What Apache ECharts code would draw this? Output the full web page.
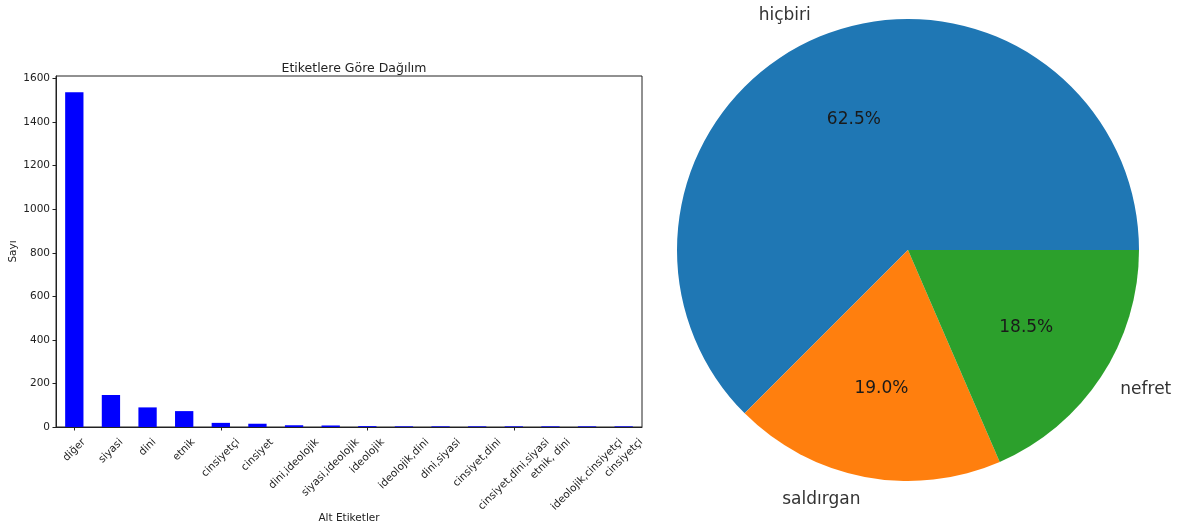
<!DOCTYPE html>
<html>
<head>
<meta charset="utf-8">
<script src="https://cdn.jsdelivr.net/npm/echarts@6/dist/echarts.min.js"></script>
<style>
html,body{margin:0;padding:0;background:#fff;}
#c{width:1179px;height:527px;}
</style>
</head>
<body>
<div id="c"></div>
<script>
const categories = ["diğer","siyasi","dini","etnik","cinsiyetçi","cinsiyet","dini,ideolojik","siyasi,ideolojik","ideolojik","ideolojik,dini","dini,siyasi","cinsiyet,dini","cinsiyet,dini,siyasi","etnik, dini","ideolojik,cinsiyetçi","cinsiyetçi"];
const counts = [1537,147,90,73,19,15,8,7,4,3,3,3,3,3,3,3];
const yTicks = [0,200,400,600,800,1000,1200,1400,1600];
const pieLabels = ["hiçbiri","saldırgan","nefret"];
const pieValues = [62.5,19.0,18.5];
const pieColors = ["#1f77b4","#ff7f0e","#2ca02c"];

const font = "DejaVu Sans";
const tickFont = 10.5;

const chart = echarts.init(document.getElementById('c'), null, {renderer:'canvas'});
const pieData = pieLabels.map((n,i)=>({name:n, value:pieValues[i], itemStyle:{color:pieColors[i]}}));
chart.setOption({
  animation:false,
  textStyle:{fontFamily:font},
  title:{text:"Etiketlere Göre Dağılım", left:349, top:57, textAlign:'center',
    textStyle:{fontFamily:font, fontSize:12.5, fontWeight:'normal', color:'#222'}},
  grid:{left:56, right:537, top:76, bottom:100, show:true, borderColor:'#222', borderWidth:1,
    containLabel:false, outerBoundsMode:'none'},
  xAxis:{type:'category', data:categories, boundaryGap:true,
    name:"Alt Etiketler", nameLocation:'middle', nameGap:86,
    nameTextStyle:{fontFamily:font, fontSize:10.5, color:'#222'},
    axisLine:{lineStyle:{color:'#222', width:1}},
    axisTick:{show:true, alignWithLabel:true, length:3.5, lineStyle:{color:'#222'}},
    axisLabel:{show:false}},
  yAxis:{type:'value', min:0, max:1612, interval:200,
    name:"Sayı", nameLocation:'middle', nameGap:37,
    nameTextStyle:{fontFamily:font, fontSize:10.5, color:'#222'},
    splitLine:{show:false},
    axisLine:{show:true, lineStyle:{color:'#222', width:1}},
    axisTick:{show:true, length:3.5, lineStyle:{color:'#222'}, customValues:yTicks},
    axisLabel:{fontFamily:font, fontSize:10.5, color:'#222', margin:6, customValues:yTicks,
      formatter:v=>String(v)}},
  series:[
    {type:'bar', data:counts, barWidth:'50%', itemStyle:{color:'#0000ff'}, silent:true},
    {type:'pie', center:[908,250], radius:231, startAngle:0, clockwise:false,
      avoidLabelOverlap:false, silent:true, data:pieData,
      itemStyle:{borderWidth:0},
      label:{show:true, position:'outside', fontFamily:font, fontSize:17, color:'#333', distanceToLabelLine:0},
      labelLine:{show:false, length:23, length2:0}},
    {type:'pie', center:[908,250], radius:[0,277], startAngle:0, clockwise:false,
      avoidLabelOverlap:false, silent:true,
      data:pieLabels.map((n,i)=>({name:n, value:pieValues[i]})),
      itemStyle:{color:'rgba(0,0,0,0)', borderWidth:0},
      label:{show:true, position:'inside', fontFamily:font, fontSize:17, color:'#1a1a1a',
        formatter:p=>p.value.toFixed(1)+'%'},
      labelLine:{show:false}}
  ]
});

// Category tick labels: matplotlib rotation=45, ha='center', va='top'
// (rotated bounding box centred under the tick, hanging below it).
const ctx = document.createElement('canvas').getContext('2d');
ctx.font = tickFont + 'px "' + font + '"';
const axisY = chart.convertToPixel({yAxisIndex:0}, 0);
const labelGraphics = categories.map((c, i) => {
  const x = chart.convertToPixel({xAxisIndex:0}, i);
  const w = ctx.measureText(c).width;
  const h = tickFont * 1.15;
  const half = (w + h) * Math.SQRT1_2 / 2;
  return {type:'text', x:x, y:axisY + 9.3 + half, rotation:Math.PI/4, silent:true,
    style:{text:c, font:tickFont + 'px "' + font + '"', fill:'#222', align:'center', verticalAlign:'middle'}};
});
chart.setOption({graphic:labelGraphics});
</script>
</body>
</html>
